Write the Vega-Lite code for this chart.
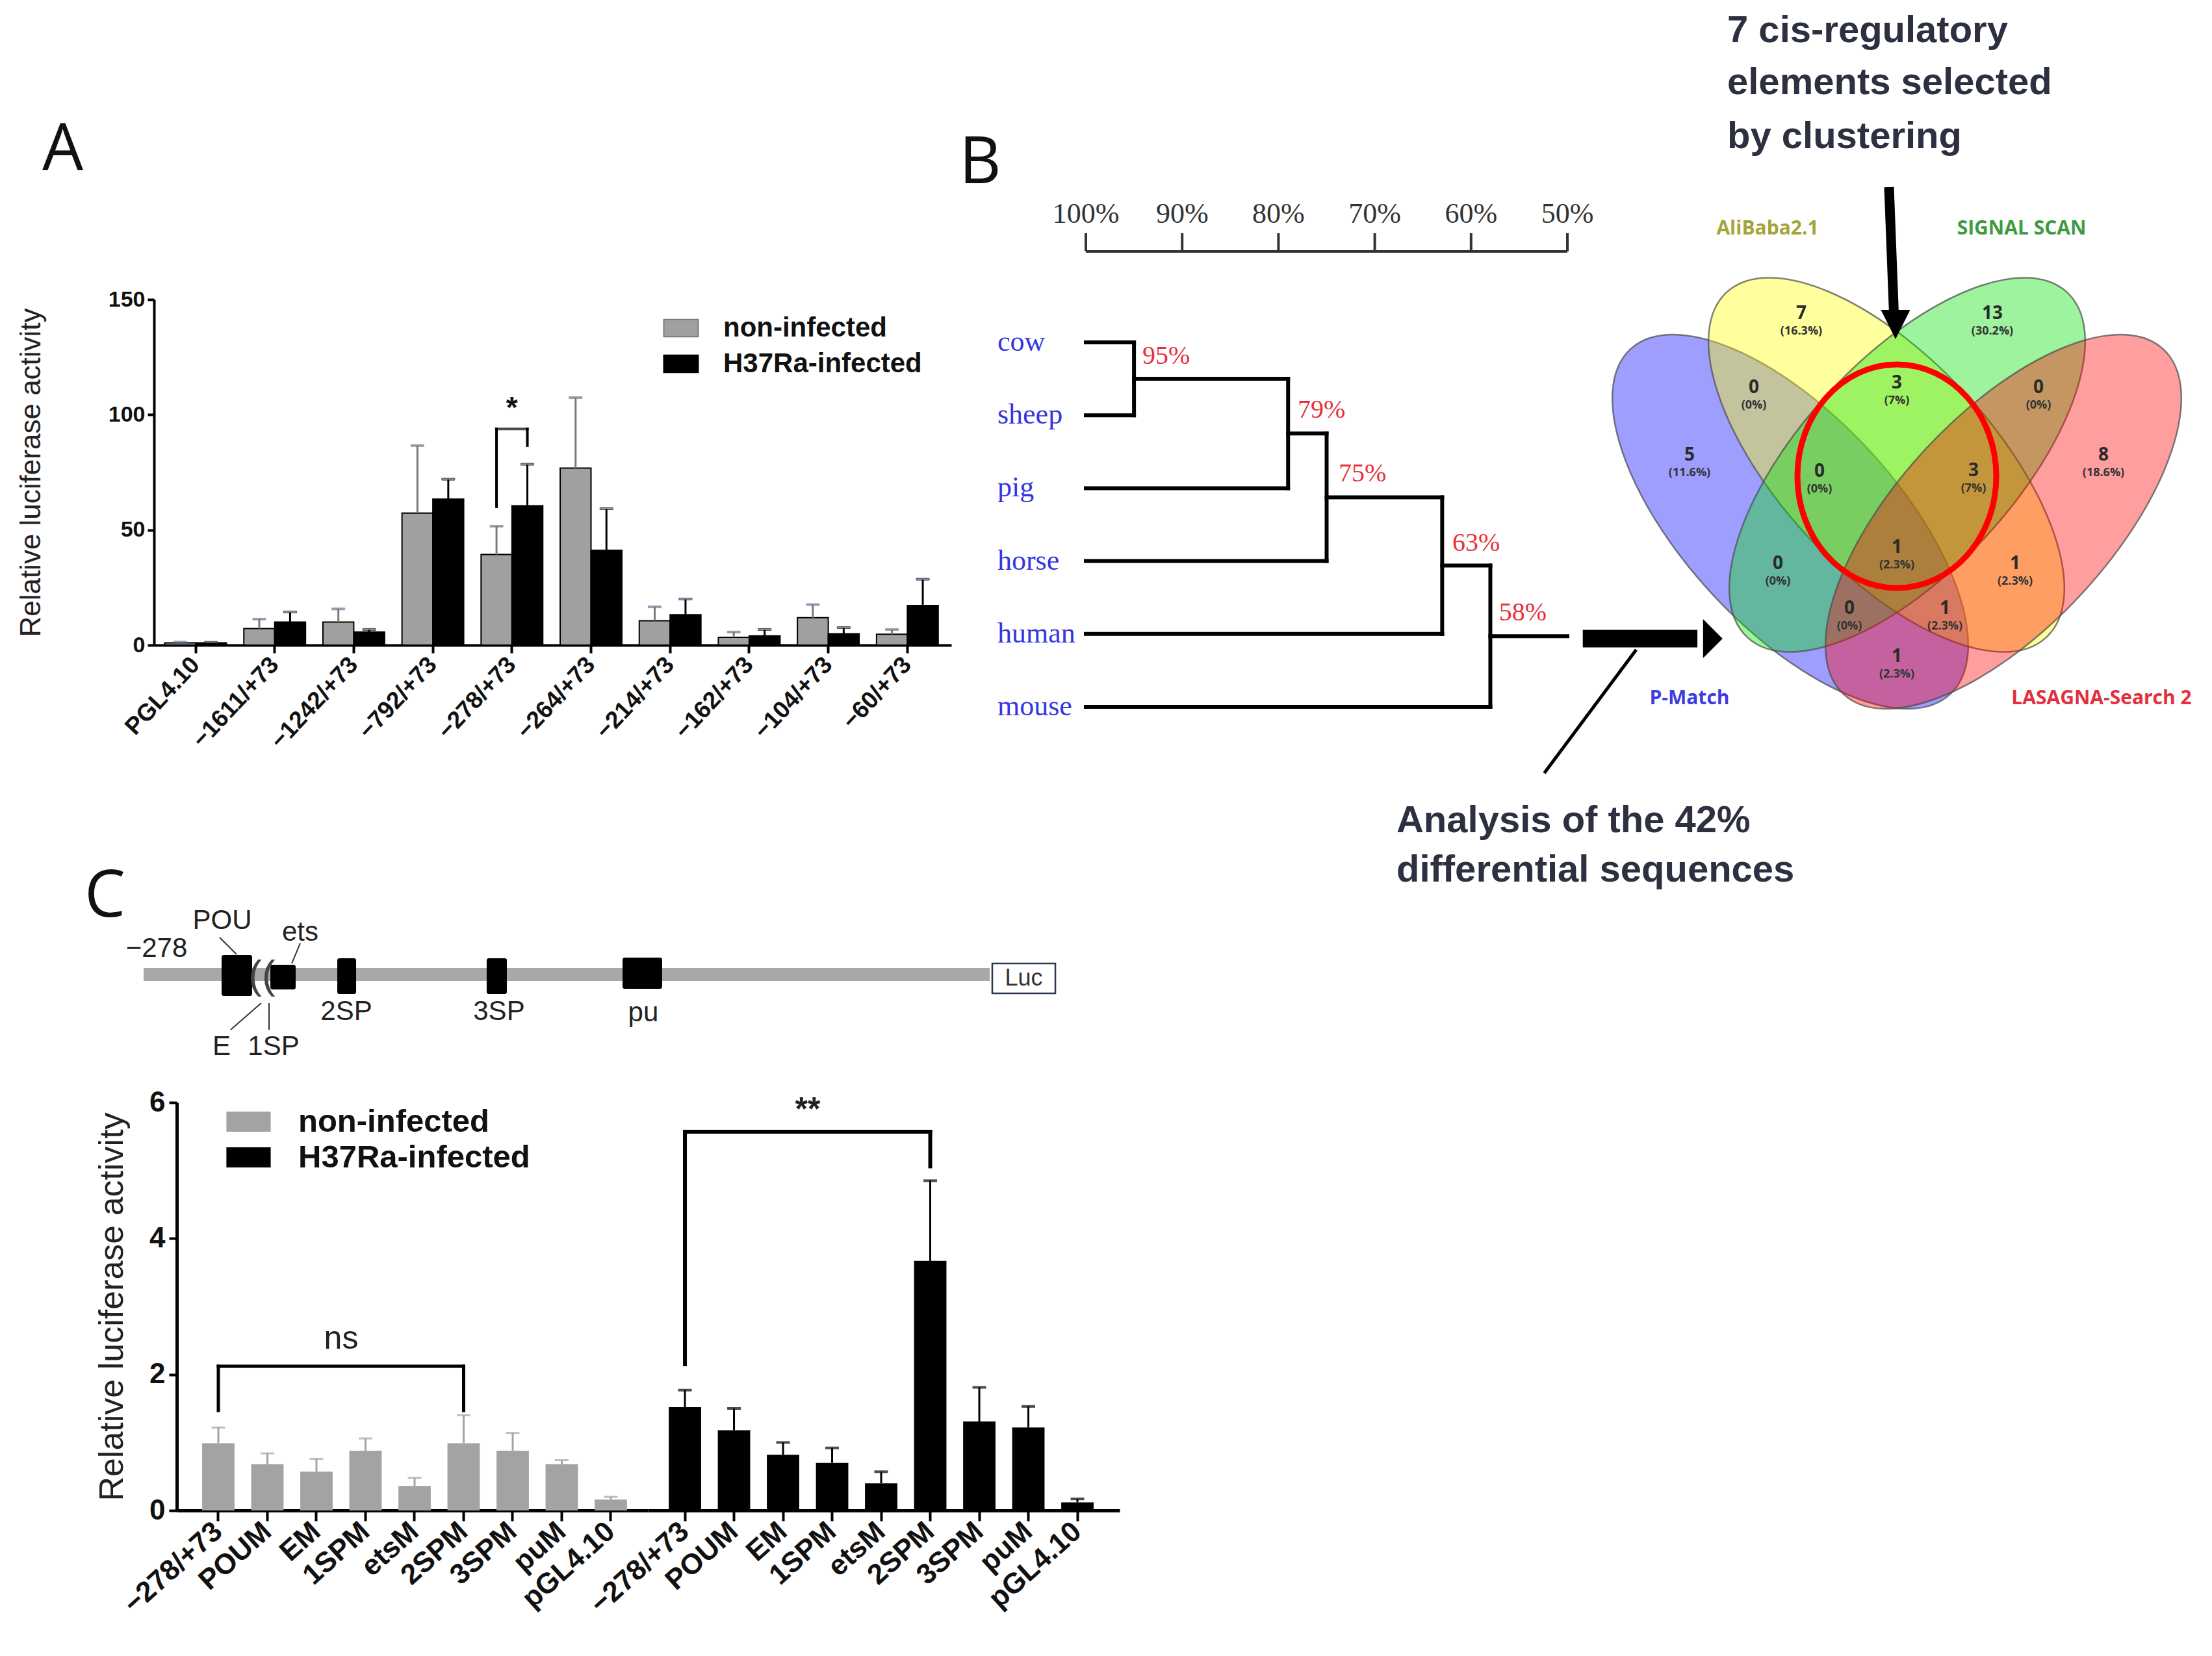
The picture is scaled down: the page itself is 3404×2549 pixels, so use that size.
{
  "$schema": "https://vega.github.io/schema/vega-lite/v6.json",
  "background": "white",
  "padding": {"left": 26, "top": 19, "right": 0, "bottom": 0},
  "bounds": "flush",
  "spacing": 20,
  "resolve": {"scale": {"fill": "independent", "color": "independent", "stroke": "independent"}},
  "config": {
    "view": {"stroke": null},
    "axis": {"domainColor": "black", "tickColor": "black", "labelColor": "#111", "titleColor": "#222", "grid": false, "labelOverlap": false, "labelBound": false, "labelLimit": 0}
  },
  "datasets": {
    "A": [
      {"group": "PGL4.10", "cond": "non-infected", "value": 1.0, "hi": 1.3},
      {"group": "PGL4.10", "cond": "H37Ra-infected", "value": 1.0, "hi": 1.2},
      {"group": "−1611/+73", "cond": "non-infected", "value": 7.2, "hi": 11.3},
      {"group": "−1611/+73", "cond": "H37Ra-infected", "value": 10.0, "hi": 14.4},
      {"group": "−1242/+73", "cond": "non-infected", "value": 10.0, "hi": 15.7},
      {"group": "−1242/+73", "cond": "H37Ra-infected", "value": 5.7, "hi": 6.8},
      {"group": "−792/+73", "cond": "non-infected", "value": 57.3, "hi": 86.6},
      {"group": "−792/+73", "cond": "H37Ra-infected", "value": 63.4, "hi": 72.0},
      {"group": "−278/+73", "cond": "non-infected", "value": 39.3, "hi": 51.6},
      {"group": "−278/+73", "cond": "H37Ra-infected", "value": 60.5, "hi": 78.5},
      {"group": "−264/+73", "cond": "non-infected", "value": 76.8, "hi": 107.4},
      {"group": "−264/+73", "cond": "H37Ra-infected", "value": 41.2, "hi": 59.2},
      {"group": "−214/+73", "cond": "non-infected", "value": 10.6, "hi": 16.6},
      {"group": "−214/+73", "cond": "H37Ra-infected", "value": 13.2, "hi": 20.0},
      {"group": "−162/+73", "cond": "non-infected", "value": 3.4, "hi": 5.7},
      {"group": "−162/+73", "cond": "H37Ra-infected", "value": 4.0, "hi": 6.8},
      {"group": "−104/+73", "cond": "non-infected", "value": 11.9, "hi": 17.6},
      {"group": "−104/+73", "cond": "H37Ra-infected", "value": 4.9, "hi": 7.6},
      {"group": "−60/+73", "cond": "non-infected", "value": 4.7, "hi": 6.8},
      {"group": "−60/+73", "cond": "H37Ra-infected", "value": 17.2, "hi": 28.6}
    ],
    "Abr": [
      {"group": "−278/+73", "cond": "non-infected", "y1": 60.1, "y2": 93.8},
      {"group": "−278/+73", "cond": "H37Ra-infected", "y1": 86.6, "y2": 93.8}
    ],
    "Atop": [{"group": "−278/+73", "y": 93.8, "star": 102.5, "t": "*"}],
    "Aletter": [{"group": "PGL4.10", "y": 206.1, "t": "A"}],
    "CL": [
      {"construct": "−278/+73", "cond": "non-infected", "value": 0.99, "hi": 1.22},
      {"construct": "POUM", "cond": "non-infected", "value": 0.68, "hi": 0.84},
      {"construct": "EM", "cond": "non-infected", "value": 0.57, "hi": 0.76},
      {"construct": "1SPM", "cond": "non-infected", "value": 0.88, "hi": 1.06},
      {"construct": "etsM", "cond": "non-infected", "value": 0.36, "hi": 0.48},
      {"construct": "2SPM", "cond": "non-infected", "value": 0.99, "hi": 1.40},
      {"construct": "3SPM", "cond": "non-infected", "value": 0.88, "hi": 1.14},
      {"construct": "puM", "cond": "non-infected", "value": 0.68, "hi": 0.74},
      {"construct": "pGL4.10", "cond": "non-infected", "value": 0.16, "hi": 0.20}
    ],
    "CR": [
      {"construct": "−278/+73", "cond": "H37Ra-infected", "value": 1.52, "hi": 1.77},
      {"construct": "POUM", "cond": "H37Ra-infected", "value": 1.18, "hi": 1.50},
      {"construct": "EM", "cond": "H37Ra-infected", "value": 0.82, "hi": 1.00},
      {"construct": "1SPM", "cond": "H37Ra-infected", "value": 0.70, "hi": 0.92},
      {"construct": "etsM", "cond": "H37Ra-infected", "value": 0.40, "hi": 0.57},
      {"construct": "2SPM", "cond": "H37Ra-infected", "value": 3.67, "hi": 4.85},
      {"construct": "3SPM", "cond": "H37Ra-infected", "value": 1.31, "hi": 1.81},
      {"construct": "puM", "cond": "H37Ra-infected", "value": 1.22, "hi": 1.53},
      {"construct": "pGL4.10", "cond": "H37Ra-infected", "value": 0.12, "hi": 0.17}
    ],
    "CLbr": [
      {"x1": "−278/+73", "x2": "−278/+73", "y1": 1.47, "y2": 2.12},
      {"x1": "2SPM", "x2": "2SPM", "y1": 1.47, "y2": 2.12},
      {"x1": "−278/+73", "x2": "2SPM", "y1": 2.12, "y2": 2.12}
    ],
    "CLt": [{"x": "EM", "y": 2.52, "t": "ns"}],
    "CRbr": [
      {"x1": "−278/+73", "x2": "−278/+73", "y1": 2.15, "y2": 5.57},
      {"x1": "2SPM", "x2": "2SPM", "y1": 5.06, "y2": 5.57},
      {"x1": "−278/+73", "x2": "2SPM", "y1": 5.57, "y2": 5.57}
    ],
    "CRt": [{"x": "EM", "y": 5.89, "t": "**"}],
    "sLine": [{"x1": -1.08, "x2": 86.54, "y": 73.34}],
    "sBoxes": [
      {"name": "POU", "x1": 7.0, "x2": 10.16, "y1": 68.83, "y2": 78.31},
      {"name": "ets", "x1": 12.05, "x2": 14.67, "y1": 71.08, "y2": 76.81},
      {"name": "2SP", "x1": 18.98, "x2": 20.93, "y1": 69.58, "y2": 77.86},
      {"name": "3SP", "x1": 34.45, "x2": 36.54, "y1": 69.58, "y2": 77.86},
      {"name": "pu", "x1": 48.52, "x2": 52.62, "y1": 69.43, "y2": 76.66}
    ],
    "sLuc": [{"x1": 86.81, "x2": 93.34, "y1": 70.78, "y2": 77.71, "x": 90.07, "y": 74.25, "t": "Luc"}],
    "sLabels": [
      {"t": "−278", "x": 0.27, "y": 67.32},
      {"t": "POU", "x": 7.07, "y": 60.84},
      {"t": "ets", "x": 15.14, "y": 63.55},
      {"t": "2SP", "x": 19.92, "y": 81.93},
      {"t": "3SP", "x": 35.73, "y": 81.93},
      {"t": "pu", "x": 50.67, "y": 82.23},
      {"t": "E", "x": 7.0, "y": 90.06},
      {"t": "1SP", "x": 12.38, "y": 90.06}
    ],
    "sLeaders": [
      {"x1": 6.80, "x2": 8.55, "y1": 64.76, "y2": 68.67},
      {"x1": 15.14, "x2": 14.27, "y1": 66.11, "y2": 70.78},
      {"x1": 7.94, "x2": 11.10, "y1": 86.14, "y2": 79.97},
      {"x1": 11.91, "x2": 11.91, "y1": 79.97, "y2": 86.14}
    ],
    "sArc": [{"t": "((", "x": 11.17, "y": 73.64}],
    "sLetter": [{"t": "C", "x": -7.2, "y": 59.94}],
    "dLines": [
      {"x1": 100, "x2": 95, "y1": 0, "y2": 0},
      {"x1": 100, "x2": 95, "y1": 1, "y2": 1},
      {"x1": 100, "x2": 79, "y1": 2, "y2": 2},
      {"x1": 100, "x2": 75, "y1": 3, "y2": 3},
      {"x1": 100, "x2": 63, "y1": 4, "y2": 4},
      {"x1": 100, "x2": 58, "y1": 5, "y2": 5},
      {"x1": 95, "x2": 95, "y1": 0, "y2": 1},
      {"x1": 79, "x2": 79, "y1": 0.5, "y2": 2},
      {"x1": 75, "x2": 75, "y1": 1.25, "y2": 3},
      {"x1": 63, "x2": 63, "y1": 2.125, "y2": 4},
      {"x1": 58, "x2": 58, "y1": 3.0625, "y2": 5},
      {"x1": 95, "x2": 79, "y1": 0.5, "y2": 0.5},
      {"x1": 79, "x2": 75, "y1": 1.25, "y2": 1.25},
      {"x1": 75, "x2": 63, "y1": 2.125, "y2": 2.125},
      {"x1": 63, "x2": 58, "y1": 3.0625, "y2": 3.0625},
      {"x1": 58, "x2": 50, "y1": 4.03, "y2": 4.03}
    ],
    "dScale": [
      {"x1": 100, "x2": 50, "y1": -1.248, "y2": -1.248},
      {"x1": 100, "x2": 100, "y1": -1.248, "y2": -1.497},
      {"x1": 90, "x2": 90, "y1": -1.248, "y2": -1.497},
      {"x1": 80, "x2": 80, "y1": -1.248, "y2": -1.497},
      {"x1": 70, "x2": 70, "y1": -1.248, "y2": -1.497},
      {"x1": 60, "x2": 60, "y1": -1.248, "y2": -1.497},
      {"x1": 50, "x2": 50, "y1": -1.248, "y2": -1.497}
    ],
    "dScaleLab": [
      {"x": 100, "y": -1.756, "t": "100%"},
      {"x": 90, "y": -1.756, "t": "90%"},
      {"x": 80, "y": -1.756, "t": "80%"},
      {"x": 70, "y": -1.756, "t": "70%"},
      {"x": 60, "y": -1.756, "t": "60%"},
      {"x": 50, "y": -1.756, "t": "50%"}
    ],
    "dLeaves": [
      {"t": "cow", "x": 109.18, "y": 0},
      {"t": "sheep", "x": 109.18, "y": 1},
      {"t": "pig", "x": 109.18, "y": 2},
      {"t": "horse", "x": 109.18, "y": 3},
      {"t": "human", "x": 109.18, "y": 4},
      {"t": "mouse", "x": 109.18, "y": 5}
    ],
    "dPct": [
      {"t": "95%", "x": 94.13, "y": 0.19},
      {"t": "79%", "x": 78.0, "y": 0.93},
      {"t": "75%", "x": 73.75, "y": 1.80},
      {"t": "63%", "x": 61.94, "y": 2.75},
      {"t": "58%", "x": 57.1, "y": 3.71}
    ],
    "dLetter": [{"t": "B", "x": 113.16, "y": -2.18}],
    "dArrow": [{"x1": 48.4, "x2": 36.5, "y1": 4.064, "y2": 4.064}],
    "dHead": [{"x": 34.9, "y": 4.064}],
    "dDiag": [{"x1": 52.4, "x2": 42.85, "y1": 5.91, "y2": 4.216}],
    "dText": [
      {"t": "Analysis of the 42%", "x": 67.75, "y": 6.57},
      {"t": "differential sequences", "x": 67.75, "y": 7.25}
    ],
    "vennL": [
      {"set": "P-Match", "u": -16.4, "v": 34.2},
      {"set": "AliBaba2.1", "u": -1.6, "v": 25.45}
    ],
    "vennR": [
      {"set": "SIGNAL SCAN", "u": 1.6, "v": 25.45},
      {"set": "LASAGNA-Search 2", "u": 16.4, "v": 34.2}
    ],
    "vCircle": [{"u": 0, "v": 27.2}],
    "vNums": [
      {"n": "7", "p": "(16.3%)", "u": -14.7, "v": 2.2},
      {"n": "13", "p": "(30.2%)", "u": 14.7, "v": 2.2},
      {"n": "0", "p": "(0%)", "u": -22.0, "v": 13.6},
      {"n": "3", "p": "(7%)", "u": 0, "v": 12.9},
      {"n": "0", "p": "(0%)", "u": 21.8, "v": 13.6},
      {"n": "5", "p": "(11.6%)", "u": -31.9, "v": 24.0},
      {"n": "8", "p": "(18.6%)", "u": 31.8, "v": 24.0},
      {"n": "0", "p": "(0%)", "u": -11.9, "v": 26.5},
      {"n": "3", "p": "(7%)", "u": 11.8, "v": 26.4},
      {"n": "1", "p": "(2.3%)", "u": 0, "v": 38.2},
      {"n": "0", "p": "(0%)", "u": -18.3, "v": 40.7},
      {"n": "1", "p": "(2.3%)", "u": 18.2, "v": 40.7},
      {"n": "0", "p": "(0%)", "u": -7.3, "v": 47.6},
      {"n": "1", "p": "(2.3%)", "u": 7.4, "v": 47.6},
      {"n": "1", "p": "(2.3%)", "u": 0, "v": 55.0}
    ],
    "vSets": [
      {"set": "AliBaba2.1", "u": -19.9, "v": -10.9},
      {"set": "SIGNAL SCAN", "u": 19.2, "v": -10.9},
      {"set": "P-Match", "u": -31.9, "v": 61.4},
      {"set": "LASAGNA-Search 2", "u": 31.5, "v": 61.4}
    ],
    "vCis": [
      {"t": "7 cis-regulatory", "u": -26.1, "v": -41.3},
      {"t": "elements selected", "u": -26.1, "v": -33.3},
      {"t": "by clustering", "u": -26.1, "v": -25.0}
    ],
    "vShaft": [{"u1": -1.2, "u2": -0.45, "v1": -17.3, "v2": 2.2}],
    "vHead": [{"u": -0.2, "v": 3.85}]
  },
  "vconcat": [
    {
      "bounds": "flush",
      "spacing": 0,
      "resolve": {"scale": {"fill": "independent", "color": "independent", "stroke": "independent"}},
      "hconcat": [
        {
          "width": 1227,
          "height": 532,
          "layer": [
            {
              "data": {"name": "A"},
              "mark": {"type": "bar", "stroke": "black", "strokeWidth": 2},
              "encoding": {
                "x": {
                  "field": "group", "type": "nominal",
                  "scale": {"domain": ["PGL4.10", "−1611/+73", "−1242/+73", "−792/+73", "−278/+73", "−264/+73", "−214/+73", "−162/+73", "−104/+73", "−60/+73"], "paddingInner": 0.22, "paddingOuter": 0.151, "align": 0.45},
                  "axis": {"title": null, "labelAngle": -47, "labelAlign": "right", "labelBaseline": "middle", "labelFont": "Liberation Sans", "labelFontWeight": "bold", "labelFontSize": 37, "labelPadding": 12, "tickSize": 12, "tickWidth": 4, "domainWidth": 4}
                },
                "xOffset": {"field": "cond", "type": "nominal", "scale": {"domain": ["non-infected", "H37Ra-infected"], "paddingInner": 0, "paddingOuter": 0}},
                "y": {
                  "field": "value", "type": "quantitative",
                  "scale": {"domain": [0, 150], "nice": false},
                  "axis": {"title": "Relative luciferase activity", "values": [0, 50, 100, 150], "titleFont": "Liberation Sans", "titleFontSize": 44, "titleFontWeight": "normal", "titlePadding": 96, "labelFont": "Liberation Sans", "labelFontWeight": "bold", "labelFontSize": 34, "labelPadding": 4, "tickSize": 10, "tickWidth": 4, "domainWidth": 4}
                },
                "fill": {
                  "field": "cond", "type": "nominal",
                  "scale": {"domain": ["non-infected", "H37Ra-infected"], "range": ["#a0a0a0", "#000000"]},
                  "legend": {"orient": "none", "legendX": 790, "legendY": 23, "title": null, "padding": 0, "symbolType": "M-2,-1H2V1H-2Z", "symbolSize": 702, "symbolStrokeColor": "#000", "symbolStrokeWidth": 2, "symbolOpacity": 1, "labelFont": "Liberation Sans", "labelFontSize": 42, "labelFontWeight": "bold", "labelColor": "#111", "labelOffset": 44, "labelLimit": 0, "rowPadding": 13}
                }
              }
            },
            {
              "data": {"name": "A"},
              "mark": {"type": "rule", "strokeWidth": 3},
              "encoding": {
                "x": {"field": "group", "type": "nominal"},
                "xOffset": {"field": "cond", "type": "nominal"},
                "y": {"field": "value", "type": "quantitative"},
                "y2": {"field": "hi"},
                "stroke": {"field": "cond", "type": "nominal", "scale": {"domain": ["non-infected", "H37Ra-infected"], "range": ["#7a7a7a", "#000000"]}, "legend": null}
              }
            },
            {
              "data": {"name": "A"},
              "mark": {"type": "tick", "thickness": 3, "size": 20},
              "encoding": {
                "x": {"field": "group", "type": "nominal"},
                "xOffset": {"field": "cond", "type": "nominal"},
                "y": {"field": "hi", "type": "quantitative"},
                "stroke": {"field": "cond", "type": "nominal", "legend": null}
              }
            },
            {
              "data": {"name": "Abr"},
              "mark": {"type": "rule", "strokeWidth": 4, "color": "black", "strokeCap": "square"},
              "encoding": {
                "x": {"field": "group", "type": "nominal"},
                "xOffset": {"field": "cond", "type": "nominal"},
                "y": {"field": "y1", "type": "quantitative"},
                "y2": {"field": "y2"}
              }
            },
            {
              "data": {"name": "Atop"},
              "mark": {"type": "tick", "thickness": 4, "size": 52, "color": "black"},
              "encoding": {
                "x": {"field": "group", "type": "nominal"},
                "y": {"field": "y", "type": "quantitative"}
              }
            },
            {
              "data": {"name": "Atop"},
              "mark": {"type": "text", "fontSize": 46, "fontWeight": "bold", "font": "Liberation Sans", "color": "#111", "baseline": "middle"},
              "encoding": {
                "x": {"field": "group", "type": "nominal"},
                "y": {"field": "star", "type": "quantitative"},
                "text": {"field": "t"}
              }
            },
            {
              "data": {"name": "Aletter"},
              "mark": {"type": "text", "fontSize": 100, "font": "Open Sans", "color": "#111", "align": "left", "baseline": "alphabetic", "dx": -236},
              "encoding": {
                "x": {"field": "group", "type": "nominal"},
                "y": {"field": "y", "type": "quantitative"},
                "text": {"field": "t"}
              }
            }
          ]
        },
        {
          "width": 976,
          "height": 532,
          "layer": [
            {
              "data": {"name": "dLines"},
              "mark": {"type": "rule", "color": "black", "strokeWidth": 6, "strokeCap": "square"},
              "encoding": {
                "x": {"field": "x1", "type": "quantitative", "scale": {"domain": [113.968, 48.111], "nice": false, "zero": false}, "axis": null},
                "x2": {"field": "x2"},
                "y": {"field": "y1", "type": "quantitative", "scale": {"domain": [-0.588, 4.1535], "reverse": true, "nice": false, "zero": false}, "axis": null},
                "y2": {"field": "y2"}
              }
            },
            {
              "data": {"name": "dScale"},
              "mark": {"type": "rule", "color": "#333", "strokeWidth": 4},
              "encoding": {
                "x": {"field": "x1", "type": "quantitative"},
                "x2": {"field": "x2"},
                "y": {"field": "y1", "type": "quantitative"},
                "y2": {"field": "y2"}
              }
            },
            {
              "data": {"name": "dScaleLab"},
              "mark": {"type": "text", "font": "Liberation Serif", "fontSize": 44, "color": "#333", "baseline": "middle"},
              "encoding": {
                "x": {"field": "x", "type": "quantitative"},
                "y": {"field": "y", "type": "quantitative"},
                "text": {"field": "t"}
              }
            },
            {
              "data": {"name": "dLeaves"},
              "mark": {"type": "text", "font": "Liberation Serif", "fontSize": 44, "color": "#3535e0", "align": "left", "baseline": "middle"},
              "encoding": {
                "x": {"field": "x", "type": "quantitative"},
                "y": {"field": "y", "type": "quantitative"},
                "text": {"field": "t"}
              }
            },
            {
              "data": {"name": "dPct"},
              "mark": {"type": "text", "font": "Liberation Serif", "fontSize": 40, "color": "#e8303a", "align": "left", "baseline": "middle"},
              "encoding": {
                "x": {"field": "x", "type": "quantitative"},
                "y": {"field": "y", "type": "quantitative"},
                "text": {"field": "t"}
              }
            },
            {
              "data": {"name": "dLetter"},
              "mark": {"type": "text", "font": "Open Sans", "fontSize": 100, "color": "#111", "align": "left", "baseline": "alphabetic"},
              "encoding": {
                "x": {"field": "x", "type": "quantitative"},
                "y": {"field": "y", "type": "quantitative"},
                "text": {"field": "t"}
              }
            },
            {
              "data": {"name": "dArrow"},
              "mark": {"type": "rule", "color": "black", "strokeWidth": 27},
              "encoding": {
                "x": {"field": "x1", "type": "quantitative"},
                "x2": {"field": "x2"},
                "y": {"field": "y1", "type": "quantitative"},
                "y2": {"field": "y2"}
              }
            },
            {
              "data": {"name": "dHead"},
              "mark": {"type": "point", "shape": "M-0.5,-1L0.5,0L-0.5,1Z", "size": 3600, "filled": true, "color": "black", "opacity": 1},
              "encoding": {
                "x": {"field": "x", "type": "quantitative"},
                "y": {"field": "y", "type": "quantitative"}
              }
            },
            {
              "data": {"name": "dDiag"},
              "mark": {"type": "rule", "color": "black", "strokeWidth": 5},
              "encoding": {
                "x": {"field": "x1", "type": "quantitative"},
                "x2": {"field": "x2"},
                "y": {"field": "y1", "type": "quantitative"},
                "y2": {"field": "y2"}
              }
            },
            {
              "data": {"name": "dText"},
              "mark": {"type": "text", "font": "Liberation Sans", "fontSize": 58, "fontWeight": "bold", "color": "#2d3040", "align": "left", "baseline": "middle"},
              "encoding": {
                "x": {"field": "x", "type": "quantitative"},
                "y": {"field": "y", "type": "quantitative"},
                "text": {"field": "t"}
              }
            }
          ]
        },
        {
          "width": 960,
          "height": 532,
          "layer": [
            {
              "data": {"name": "vennL"},
              "mark": {"type": "point", "shape": "M1,0C1,0.25,0.5523,0.4525,0,0.4525C-0.5523,0.4525,-1,0.25,-1,0C-1,-0.25,-0.5523,-0.4525,0,-0.4525C0.5523,-0.4525,1,-0.25,1,0Z", "size": 524176, "angle": 47.2, "filled": true, "fillOpacity": 0.38, "stroke": "#4a4a4a", "strokeWidth": 2.5, "strokeOpacity": 0.7},
              "encoding": {
                "x": {"field": "u", "type": "quantitative", "scale": {"domain": [-47.9, 48.1], "nice": false, "zero": false}, "axis": null},
                "y": {"field": "v", "type": "quantitative", "scale": {"domain": [0, 53.2], "reverse": true, "nice": false, "zero": false}, "axis": null},
                "fill": {"field": "set", "type": "nominal", "scale": {"domain": ["P-Match", "AliBaba2.1", "SIGNAL SCAN", "LASAGNA-Search 2"], "range": ["#0000ff", "#ffff00", "#00e000", "#ff0000"]}, "legend": null}
              }
            },
            {
              "data": {"name": "vennR"},
              "mark": {"type": "point", "shape": "M1,0C1,0.25,0.5523,0.4525,0,0.4525C-0.5523,0.4525,-1,0.25,-1,0C-1,-0.25,-0.5523,-0.4525,0,-0.4525C0.5523,-0.4525,1,-0.25,1,0Z", "size": 524176, "angle": -47.2, "filled": true, "fillOpacity": 0.38, "stroke": "#4a4a4a", "strokeWidth": 2.5, "strokeOpacity": 0.7},
              "encoding": {
                "x": {"field": "u", "type": "quantitative"},
                "y": {"field": "v", "type": "quantitative"},
                "fill": {"field": "set", "type": "nominal", "legend": null}
              }
            },
            {
              "data": {"name": "vCircle"},
              "mark": {"type": "point", "shape": "M0.8895,0C0.8895,0.5523,0.4913,1,0,1C-0.4913,1,-0.8895,0.5523,-0.8895,0C-0.8895,-0.5523,-0.4913,-1,0,-1C0.4913,-1,0.8895,-0.5523,0.8895,0Z", "size": 118336, "filled": false, "stroke": "#ff0000", "strokeWidth": 9, "opacity": 1},
              "encoding": {
                "x": {"field": "u", "type": "quantitative"},
                "y": {"field": "v", "type": "quantitative"}
              }
            },
            {
              "data": {"name": "vNums"},
              "mark": {"type": "text", "font": "Open Sans", "fontSize": 28, "fontWeight": "bold", "color": "#2a2a2a", "baseline": "middle"},
              "encoding": {
                "x": {"field": "u", "type": "quantitative"},
                "y": {"field": "v", "type": "quantitative"},
                "text": {"field": "n"}
              }
            },
            {
              "data": {"name": "vNums"},
              "mark": {"type": "text", "font": "Open Sans", "fontSize": 18, "fontWeight": "bold", "color": "#333", "baseline": "middle", "dy": 27},
              "encoding": {
                "x": {"field": "u", "type": "quantitative"},
                "y": {"field": "v", "type": "quantitative"},
                "text": {"field": "p"}
              }
            },
            {
              "data": {"name": "vSets"},
              "mark": {"type": "text", "font": "Open Sans", "fontSize": 30, "fontWeight": "bold", "baseline": "middle"},
              "encoding": {
                "x": {"field": "u", "type": "quantitative"},
                "y": {"field": "v", "type": "quantitative"},
                "text": {"field": "set"},
                "color": {"field": "set", "type": "nominal", "scale": {"domain": ["P-Match", "AliBaba2.1", "SIGNAL SCAN", "LASAGNA-Search 2"], "range": ["#3c3ce0", "#a4a43a", "#3f9a3f", "#e23040"]}, "legend": null}
              }
            },
            {
              "data": {"name": "vCis"},
              "mark": {"type": "text", "font": "Liberation Sans", "fontSize": 58, "fontWeight": "bold", "color": "#2d3040", "align": "left", "baseline": "middle"},
              "encoding": {
                "x": {"field": "u", "type": "quantitative"},
                "y": {"field": "v", "type": "quantitative"},
                "text": {"field": "t"}
              }
            },
            {
              "data": {"name": "vShaft"},
              "mark": {"type": "rule", "color": "black", "strokeWidth": 15},
              "encoding": {
                "x": {"field": "u1", "type": "quantitative"},
                "x2": {"field": "u2"},
                "y": {"field": "v1", "type": "quantitative"},
                "y2": {"field": "v2"}
              }
            },
            {
              "data": {"name": "vHead"},
              "mark": {"type": "point", "shape": "M-1,-1L1,-1L0,1Z", "size": 2025, "filled": true, "color": "black", "opacity": 1},
              "encoding": {
                "x": {"field": "u", "type": "quantitative"},
                "y": {"field": "v", "type": "quantitative"}
              }
            }
          ]
        }
      ]
    },
    {
      "width": 1486,
      "height": 1196,
      "layer": [
        {
          "data": {"name": "sLine"},
          "mark": {"type": "rule", "color": "#a8a8a8", "strokeWidth": 20},
          "encoding": {
            "x": {"field": "x1", "type": "quantitative", "scale": {"domain": [0, 100], "nice": false, "zero": false}, "axis": null},
            "x2": {"field": "x2"},
            "y": {"field": "y", "type": "quantitative", "scale": {"domain": [-80.12, 100], "reverse": true, "nice": false, "zero": false}, "axis": null}
          }
        },
        {
          "data": {"name": "sBoxes"},
          "mark": {"type": "rect", "color": "black", "cornerRadius": 3},
          "encoding": {
            "x": {"field": "x1", "type": "quantitative"},
            "x2": {"field": "x2"},
            "y": {"field": "y1", "type": "quantitative"},
            "y2": {"field": "y2"}
          }
        },
        {
          "data": {"name": "sLuc"},
          "mark": {"type": "rect", "fill": "white", "stroke": "#2a3550", "strokeWidth": 2.5},
          "encoding": {
            "x": {"field": "x1", "type": "quantitative"},
            "x2": {"field": "x2"},
            "y": {"field": "y1", "type": "quantitative"},
            "y2": {"field": "y2"}
          }
        },
        {
          "data": {"name": "sLuc"},
          "mark": {"type": "text", "font": "Liberation Sans Narrow, Liberation Sans", "fontSize": 36, "color": "#333", "baseline": "middle"},
          "encoding": {
            "x": {"field": "x", "type": "quantitative"},
            "y": {"field": "y", "type": "quantitative"},
            "text": {"field": "t"}
          }
        },
        {
          "data": {"name": "sArc"},
          "mark": {"type": "text", "font": "Liberation Sans", "fontSize": 62, "color": "#444", "baseline": "middle"},
          "encoding": {
            "x": {"field": "x", "type": "quantitative"},
            "y": {"field": "y", "type": "quantitative"},
            "text": {"field": "t"}
          }
        },
        {
          "data": {"name": "sLeaders"},
          "mark": {"type": "rule", "color": "#333", "strokeWidth": 2},
          "encoding": {
            "x": {"field": "x1", "type": "quantitative"},
            "x2": {"field": "x2"},
            "y": {"field": "y1", "type": "quantitative"},
            "y2": {"field": "y2"}
          }
        },
        {
          "data": {"name": "sLabels"},
          "mark": {"type": "text", "font": "Liberation Sans", "fontSize": 42, "color": "#222", "baseline": "middle"},
          "encoding": {
            "x": {"field": "x", "type": "quantitative"},
            "y": {"field": "y", "type": "quantitative"},
            "text": {"field": "t"}
          }
        },
        {
          "data": {"name": "sLetter"},
          "mark": {"type": "text", "font": "Open Sans", "fontSize": 100, "color": "#111", "align": "left", "baseline": "alphabetic"},
          "encoding": {
            "x": {"field": "x", "type": "quantitative"},
            "y": {"field": "y", "type": "quantitative"},
            "text": {"field": "t"}
          }
        }
      ]
    },
    {
      "bounds": "flush",
      "spacing": 0,
      "resolve": {"scale": {"fill": "independent", "color": "independent", "stroke": "independent"}},
      "hconcat": [
        {
          "width": 35,
          "height": 628,
          "data": {"values": [{"a": 1}]},
          "mark": {"type": "text", "text": " "},
          "encoding": {}
        },
        {
          "width": 725,
          "height": 628,
          "layer": [
            {
              "data": {"name": "CL"},
              "mark": {"type": "bar"},
              "encoding": {
                "x": {
                  "field": "construct", "type": "nominal",
                  "scale": {"domain": ["−278/+73", "POUM", "EM", "1SPM", "etsM", "2SPM", "3SPM", "puM", "pGL4.10"], "paddingInner": 0.34, "paddingOuter": 0.4715, "align": 0.549},
                  "axis": {"title": null, "labelAngle": -42, "labelAlign": "right", "labelBaseline": "middle", "labelFont": "Liberation Sans", "labelFontWeight": "bold", "labelFontSize": 44, "labelPadding": 10, "tickSize": 16, "tickWidth": 4, "domainWidth": 5}
                },
                "y": {
                  "field": "value", "type": "quantitative",
                  "scale": {"domain": [0, 6], "nice": false},
                  "axis": {"title": "Relative luciferase activity", "values": [0, 2, 4, 6], "format": "d", "titleFont": "Liberation Sans", "titleFontSize": 52, "titleFontWeight": "normal", "titlePadding": 30, "labelFont": "Liberation Sans", "labelFontWeight": "bold", "labelFontSize": 44, "labelPadding": 6, "tickSize": 12, "tickWidth": 4, "domainWidth": 5}
                },
                "fill": {
                  "field": "cond", "type": "nominal",
                  "scale": {"domain": ["non-infected", "H37Ra-infected"], "range": ["#a3a3a3", "#000000"]},
                  "legend": {"orient": "none", "legendX": 86, "legendY": 5, "title": null, "padding": 0, "symbolType": "M-2.2,-1H2.2V1H-2.2Z", "symbolSize": 961, "symbolStrokeWidth": 0, "symbolOpacity": 1, "labelFont": "Liberation Sans", "labelFontSize": 49, "labelFontWeight": "bold", "labelColor": "#111", "labelOffset": 52, "labelLimit": 0, "rowPadding": 5}
                }
              }
            },
            {
              "data": {"name": "CL"},
              "mark": {"type": "rule", "color": "#a3a3a3", "strokeWidth": 3},
              "encoding": {
                "x": {"field": "construct", "type": "nominal"},
                "y": {"field": "value", "type": "quantitative"},
                "y2": {"field": "hi"}
              }
            },
            {
              "data": {"name": "CL"},
              "mark": {"type": "tick", "color": "#a3a3a3", "thickness": 3, "size": 21},
              "encoding": {
                "x": {"field": "construct", "type": "nominal"},
                "y": {"field": "hi", "type": "quantitative"}
              }
            },
            {
              "data": {"name": "CLbr"},
              "mark": {"type": "rule", "color": "black", "strokeWidth": 5, "strokeCap": "square"},
              "encoding": {
                "x": {"field": "x1", "type": "nominal"},
                "x2": {"field": "x2"},
                "y": {"field": "y1", "type": "quantitative"},
                "y2": {"field": "y2"}
              }
            },
            {
              "data": {"name": "CLt"},
              "mark": {"type": "text", "dx": 38, "fontSize": 50, "font": "Liberation Sans Narrow, Liberation Sans", "color": "#222", "baseline": "middle"},
              "encoding": {
                "x": {"field": "x", "type": "nominal"},
                "y": {"field": "y", "type": "quantitative"},
                "text": {"field": "t"}
              }
            }
          ]
        },
        {
          "width": 726,
          "height": 628,
          "layer": [
            {
              "data": {"name": "CR"},
              "mark": {"type": "bar", "color": "black"},
              "encoding": {
                "x": {
                  "field": "construct", "type": "nominal",
                  "scale": {"domain": ["−278/+73", "POUM", "EM", "1SPM", "etsM", "2SPM", "3SPM", "puM", "pGL4.10"], "paddingInner": 0.34, "paddingOuter": 0.478, "align": 0.445},
                  "axis": {"title": null, "labelAngle": -42, "labelAlign": "right", "labelBaseline": "middle", "labelFont": "Liberation Sans", "labelFontWeight": "bold", "labelFontSize": 44, "labelPadding": 10, "tickSize": 16, "tickWidth": 4, "domainWidth": 5}
                },
                "y": {"field": "value", "type": "quantitative", "scale": {"domain": [0, 6], "nice": false}, "axis": null}
              }
            },
            {
              "data": {"name": "CR"},
              "mark": {"type": "rule", "color": "black", "strokeWidth": 3},
              "encoding": {
                "x": {"field": "construct", "type": "nominal"},
                "y": {"field": "value", "type": "quantitative"},
                "y2": {"field": "hi"}
              }
            },
            {
              "data": {"name": "CR"},
              "mark": {"type": "tick", "color": "black", "thickness": 4, "size": 21},
              "encoding": {
                "x": {"field": "construct", "type": "nominal"},
                "y": {"field": "hi", "type": "quantitative"}
              }
            },
            {
              "data": {"name": "CRbr"},
              "mark": {"type": "rule", "color": "black", "strokeWidth": 6, "strokeCap": "square"},
              "encoding": {
                "x": {"field": "x1", "type": "nominal"},
                "x2": {"field": "x2"},
                "y": {"field": "y1", "type": "quantitative"},
                "y2": {"field": "y2"}
              }
            },
            {
              "data": {"name": "CRt"},
              "mark": {"type": "text", "dx": 38, "fontSize": 50, "fontWeight": "bold", "font": "Liberation Sans", "color": "#222", "baseline": "middle"},
              "encoding": {
                "x": {"field": "x", "type": "nominal"},
                "y": {"field": "y", "type": "quantitative"},
                "text": {"field": "t"}
              }
            }
          ]
        }
      ]
    }
  ]
}
